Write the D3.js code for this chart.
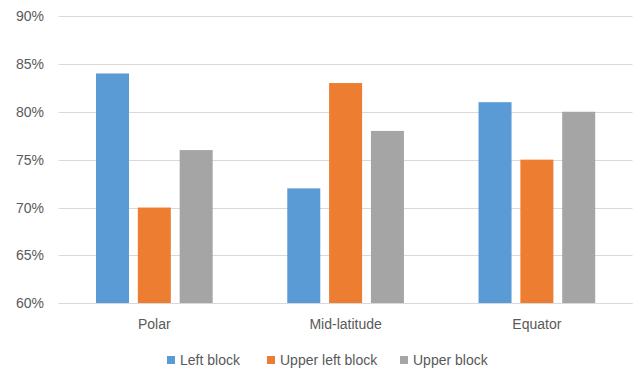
<!DOCTYPE html>
<html>
<head>
<meta charset="utf-8">
<script src="https://cdn.jsdelivr.net/npm/d3@7"></script>
<style>
  html, body { margin: 0; padding: 0; background: #fff; }
  svg { display: block; font-family: "Liberation Sans", Arial, sans-serif; }
</style>
</head>
<body>
<svg id="chart" width="635" height="372"></svg>
<script>
// Share of cases per latitude zone, by block position
const categories = ["Polar", "Mid-latitude", "Equator"];
const seriesNames = ["Left block", "Upper left block", "Upper block"];
const leftBlock = [84, 72, 81];
const upperLeftBlock = [70, 83, 75];
const upperBlock = [76, 78, 80];
const yTicks = [60, 65, 70, 75, 80, 85, 90];
const colors = ["#5B9BD5", "#ED7D31", "#A5A5A5"];

const seriesValues = [leftBlock, upperLeftBlock, upperBlock];
const rows = categories.map((c, i) => ({
  category: c,
  values: seriesNames.map((s, j) => ({ series: s, value: seriesValues[j][i], idx: j }))
}));

const svg = d3.select("#chart");
const plot = { left: 58.7, right: 632.5, top: 16, bottom: 303.3 };
const textColor = "#595959";

const y = d3.scaleLinear().domain([60, 90]).range([plot.bottom, plot.top]);
const x0 = d3.scaleBand().domain(categories).range([plot.left, plot.right])
  .paddingInner(0.39).paddingOuter(0.195);
const x1 = d3.scaleBand().domain(seriesNames).range([0, x0.bandwidth()])
  .paddingInner(0.211).paddingOuter(0);

// Horizontal gridlines
svg.append("g")
  .selectAll("line")
  .data(yTicks)
  .join("line")
  .attr("x1", plot.left)
  .attr("x2", plot.right)
  .attr("y1", d => Math.round(y(d)) + 0.5)
  .attr("y2", d => Math.round(y(d)) + 0.5)
  .attr("stroke", "#D9D9D9")
  .attr("stroke-width", 1);

// Y axis labels
const yAxis = d3.axisLeft(y).tickValues(yTicks).tickFormat(d => d + "%").tickSize(0).tickPadding(0);
const gy = svg.append("g").attr("transform", `translate(44,0)`).call(yAxis);
gy.select(".domain").remove();
gy.selectAll("text")
  .attr("fill", textColor)
  .style("font-size", "14px")
  .style("font-family", "'Liberation Sans', Arial, sans-serif");

// Bars
svg.append("g")
  .selectAll("g")
  .data(rows)
  .join("g")
  .attr("transform", d => `translate(${x0(d.category)},0)`)
  .selectAll("rect")
  .data(d => d.values)
  .join("rect")
  .attr("x", d => x1(d.series))
  .attr("width", x1.bandwidth())
  .attr("y", d => y(d.value))
  .attr("height", d => y(60) - y(d.value))
  .attr("fill", d => colors[d.idx]);

// Baseline
svg.append("line")
  .attr("x1", plot.left).attr("x2", plot.right)
  .attr("y1", Math.round(y(60)) + 0.5).attr("y2", Math.round(y(60)) + 0.5)
  .attr("stroke", "#D9D9D9");

// Category labels
const xAxis = d3.axisBottom(x0).tickSize(0).tickPadding(0);
const gx = svg.append("g").attr("transform", `translate(0,${plot.bottom})`).call(xAxis);
gx.select(".domain").remove();
gx.selectAll("text")
  .attr("y", 26)
  .attr("dy", 0)
  .attr("fill", textColor)
  .style("font-size", "14px")
  .style("font-family", "'Liberation Sans', Arial, sans-serif");

// Legend
const legendX = [167, 267, 400];
const legend = svg.append("g")
  .selectAll("g")
  .data(seriesNames)
  .join("g")
  .attr("transform", (d, i) => `translate(${legendX[i]},356)`);
legend.append("rect")
  .attr("width", 8).attr("height", 8).attr("y", 0)
  .attr("fill", (d, i) => colors[i]);
legend.append("text")
  .attr("x", 13).attr("y", 9)
  .attr("fill", textColor)
  .style("font-size", "14px")
  .text(d => d);
</script>
</body>
</html>
